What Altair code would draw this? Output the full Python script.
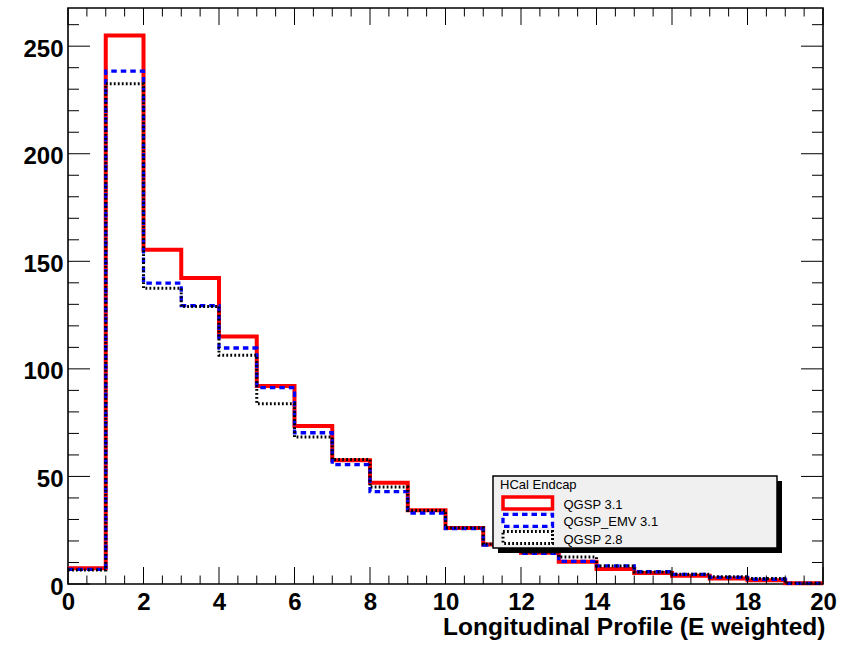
import altair as alt
import pandas as pd

# ---------------- data ----------------
bin_edges = list(range(21))  # 0 .. 20
qgsp31 = [7.3, 255.0, 155.4, 142.3, 115.1, 92.0, 73.4, 57.5, 47.1, 34.3,
          26.0, 18.4, 14.5, 10.4, 7.0, 5.1, 3.8, 2.5, 1.8, 0.3]
qgsp_emv31 = [6.8, 238.4, 139.9, 129.4, 109.7, 91.3, 70.3, 55.5, 42.9, 33.0,
              25.8, 18.1, 14.3, 10.5, 8.4, 5.7, 4.5, 3.1, 2.2, 0.3]
qgsp28 = [6.5, 232.5, 137.5, 129.0, 106.3, 83.8, 68.3, 57.9, 45.1, 34.2,
          26.2, 18.6, 14.8, 12.5, 8.4, 5.6, 4.5, 3.4, 2.5, 0.4]
series_names = ["QGSP 3.1", "QGSP_EMV 3.1", "QGSP 2.8"]
legend_title = "HCal Endcap"
x_title = "Longitudinal Profile (E weighted)"
x_label_values = [0, 2, 4, 6, 8, 10, 12, 14, 16, 18, 20]
y_label_values = [0, 50, 100, 150, 200, 250]
x_minor_ticks = [i * 0.5 for i in range(41) if (i * 0.5) % 2 != 0]
y_minor_ticks = [v for v in range(10, 261, 10) if v % 50 != 0]

W, H = 755, 576
X_MAX, Y_MAX = 20, 267.75
FONT = "Liberation Sans"

xscale = alt.Scale(domain=[0, X_MAX], nice=False, zero=False)
yscale = alt.Scale(domain=[0, Y_MAX], nice=False, zero=False)

XAXIS = alt.Axis(
    values=x_label_values, ticks=False, domain=False, grid=False,
    labelFont=FONT, labelFontSize=24, labelFontWeight="bold",
    labelColor="black", labelPadding=6, labelFlush=False,
    labelOverlap=False, title=x_title, titleFont=FONT,
    titleFontSize=24.5, titleFontWeight="bold", titleColor="black",
    titleAlign="right", titleBaseline="alphabetic",
    titleX=W + 2, titleY=50)
YAXIS = alt.Axis(
    values=y_label_values, ticks=False, domain=False, grid=False,
    labelFont=FONT, labelFontSize=24, labelFontWeight="bold",
    labelColor="black", labelPadding=5, labelOffset=3,
    labelOverlap=False, labelFlush=False, title="")


def hist_frame(values, name):
    rows = [{"x": bin_edges[i], "y": values[i], "s": name} for i in range(len(values))]
    rows.append({"x": bin_edges[-1], "y": values[-1], "s": name})
    return pd.DataFrame(rows)


def hist_layer(values, name, color, width, dash=None):
    kw = dict(interpolate="step-after", color=color, strokeWidth=width,
              strokeCap="butt")
    if dash is not None:
        kw["strokeDash"] = dash
    return alt.Chart(hist_frame(values, name)).mark_line(**kw).encode(
        x=alt.X("x:Q", scale=xscale, axis=XAXIS),
        y=alt.Y("y:Q", scale=yscale, axis=YAXIS))


red = hist_layer(qgsp31, series_names[0], "#ff0000", 4)
blue = hist_layer(qgsp_emv31, series_names[1], "#0000ff", 3.3, dash=[5.5, 4])
black = hist_layer(qgsp28, series_names[2], "#000000", 3, dash=[1.8, 2.2])

# ---------------- inward ROOT-style ticks ----------------
def yticks(vals, length):
    df = pd.DataFrame({"y": vals})
    base = alt.Chart(df).mark_rule(color="black", strokeWidth=1)
    left = base.encode(y=alt.Y("y:Q", scale=yscale, axis=YAXIS),
                       x=alt.value(0), x2=alt.value(length))
    right = base.encode(y=alt.Y("y:Q", scale=yscale, axis=YAXIS),
                        x=alt.value(W - length), x2=alt.value(W))
    return [left, right]


def xticks(vals, length):
    df = pd.DataFrame({"x": vals})
    base = alt.Chart(df).mark_rule(color="black", strokeWidth=1)
    bottom = base.encode(x=alt.X("x:Q", scale=xscale, axis=XAXIS),
                         y=alt.value(H), y2=alt.value(H - length))
    top = base.encode(x=alt.X("x:Q", scale=xscale, axis=XAXIS),
                      y=alt.value(0), y2=alt.value(length))
    return [bottom, top]


tick_layers = (yticks(y_label_values, 22) + yticks(y_minor_ticks, 11)
               + xticks(x_label_values, 17) + xticks(x_minor_ticks, 8.5))

# ---------------- legend box (ROOT TLegend look) ----------------
one = pd.DataFrame({"k": [0]})
LX0, LX1, LY0, LY1 = 425, 709, 468, 540
shadow = alt.Chart(one).mark_rect(color="black").encode(
    x=alt.value(LX0 + 5), x2=alt.value(LX1 + 5),
    y=alt.value(LY0 + 5), y2=alt.value(LY1 + 5))
box = alt.Chart(one).mark_rect(fill="#f0f0f0", stroke="black", strokeWidth=1.5).encode(
    x=alt.value(LX0), x2=alt.value(LX1), y=alt.value(LY0), y2=alt.value(LY1))
ltitle = alt.Chart(pd.DataFrame({"t": [legend_title]})).mark_text(
    font=FONT, fontSize=13, align="left", baseline="alphabetic", color="black"
).encode(text="t:N", x=alt.value(432), y=alt.value(480.5))

legend_layers = [shadow, box, ltitle]
sym_specs = [
    ("#ff0000", 3.5, None),
    ("#0000ff", 3.3, [5.5, 4]),
    ("#000000", 3, [1.8, 2.2]),
]
sym_centers = [495, 512.3, 529.6]
label_centers = [496.5, 514, 531.8]
for (col, sw, dash), yc, ly, name in zip(sym_specs, sym_centers, label_centers, series_names):
    kw = dict(fill="white", stroke=col, strokeWidth=sw)
    if dash is not None:
        kw["strokeDash"] = dash
    legend_layers.append(alt.Chart(one).mark_rect(**kw).encode(
        x=alt.value(435), x2=alt.value(484.5),
        y=alt.value(yc - 6), y2=alt.value(yc + 6)))
    legend_layers.append(alt.Chart(pd.DataFrame({"t": [name]})).mark_text(
        font=FONT, fontSize=13, align="left", baseline="middle", color="black"
    ).encode(text="t:N", x=alt.value(495.5), y=alt.value(ly)))

chart = alt.layer(
    red, blue, black, *tick_layers, *legend_layers
).properties(
    width=W, height=H,
    autosize=alt.AutoSizeParams(type="none"),
    padding={"left": 68, "top": 8, "right": 25, "bottom": 62},
    background="white",
).configure_view(
    stroke="black", strokeWidth=1.6
)

chart.save("out.html", embed_options={"renderer": "svg", "actions": False})
